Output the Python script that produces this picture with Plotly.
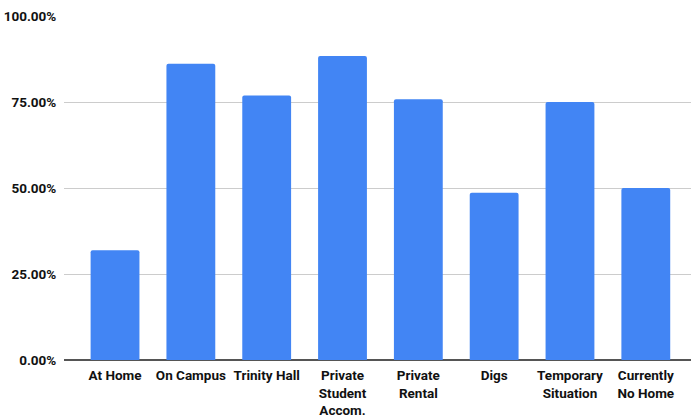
import plotly.graph_objects as go

# Share of respondents by living situation
categories = [
    "At Home",
    "On Campus",
    "Trinity Hall",
    "Private<br>Student<br>Accom.",
    "Private<br>Rental",
    "Digs",
    "Temporary<br>Situation",
    "Currently<br>No Home",
]
shares = [0.319, 0.861, 0.769, 0.884, 0.758, 0.486, 0.750, 0.500]

y_ticks = [0, 0.25, 0.5, 0.75, 1.0]
y_tick_labels = ["0.00%", "25.00%", "50.00%", "75.00%", "100.00%"]

fig = go.Figure(
    go.Bar(
        x=list(range(len(categories))),
        y=shares,
        marker=dict(color="#4285F4", line=dict(width=0), cornerradius=2),
        hoverinfo="skip",
    )
)

fig.update_layout(
    width=691,
    height=416,
    margin=dict(l=64, r=0, t=16, b=56),
    paper_bgcolor="white",
    plot_bgcolor="white",
    bargap=0.356,
    showlegend=False,
    font=dict(family="Roboto", size=13, color="#111111"),
    xaxis=dict(
        tickmode="array",
        tickvals=list(range(len(categories))),
        ticktext=[f"<b>{c}</b>" for c in categories],
        range=[-0.673, 7.596],
        showgrid=False,
        zeroline=False,
        showline=False,
        ticks="outside",
        ticklen=3,
        tickcolor="rgba(0,0,0,0)",
        tickfont=dict(family="Roboto", size=13.5, color="#111111"),
        automargin=False,
    ),
    yaxis=dict(
        tickmode="array",
        tickvals=y_ticks,
        ticktext=[f"<b>{t}</b>" for t in y_tick_labels],
        range=[0, 1.0],
        showgrid=True,
        gridcolor="#CCCCCC",
        gridwidth=1,
        zeroline=True,
        zerolinecolor="#555555",
        zerolinewidth=2,
        showline=False,
        ticks="outside",
        ticklen=4,
        tickcolor="rgba(0,0,0,0)",
        tickfont=dict(family="Roboto", size=13.5, color="#111111"),
        automargin=False,
    ),
)

fig.write_html("out.html")
